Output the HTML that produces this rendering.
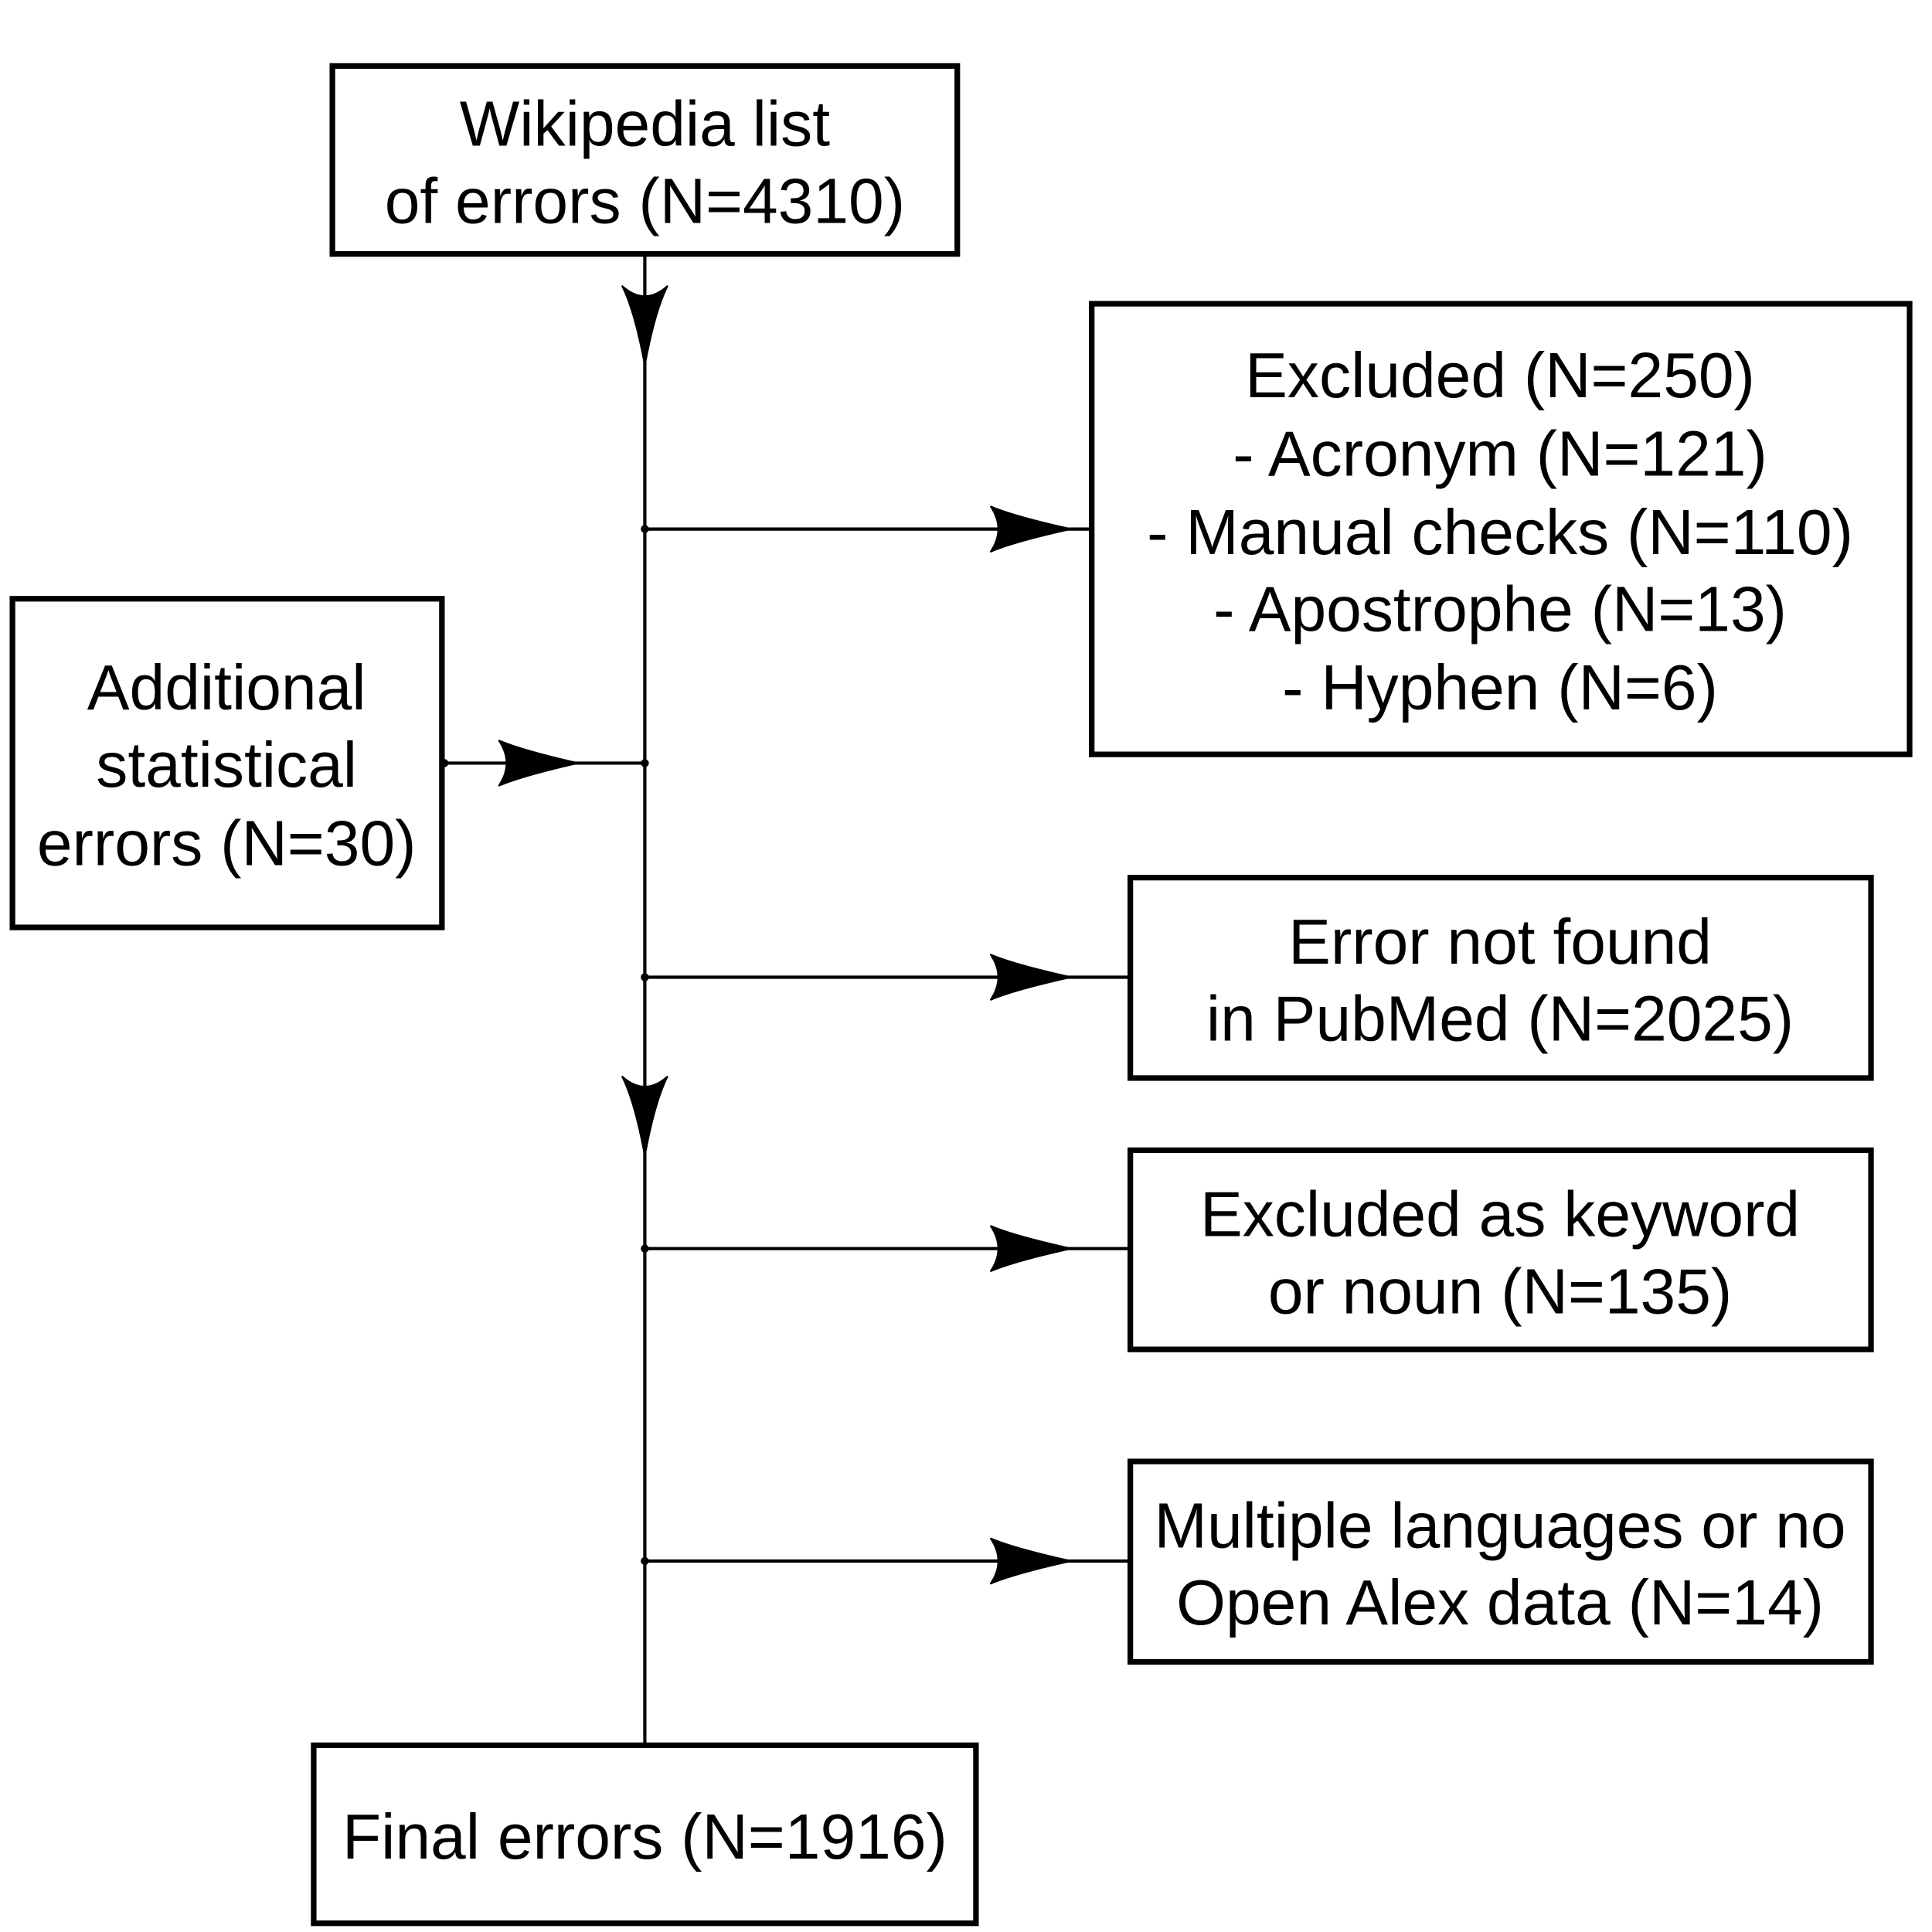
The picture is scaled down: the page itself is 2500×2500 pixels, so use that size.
<!DOCTYPE html>
<html><head><meta charset="utf-8"><style>
html,body{margin:0;padding:0;background:#fff;width:2500px;height:2500px;overflow:hidden}
svg{display:block}
text{font-family:"Liberation Sans",Arial,sans-serif;font-size:51px;fill:#000;text-anchor:middle}
</style></head><body>
<svg width="2500" height="2500" viewBox="0 0 1552 1552" xmlns="http://www.w3.org/2000/svg">
<g fill="none" stroke="#000" stroke-width="4.5">
<rect x="267" y="53" width="502" height="151"/>
<rect x="877" y="244" width="657" height="362"/>
<rect x="10" y="481" width="345" height="264"/>
<rect x="908" y="705" width="595" height="161"/>
<rect x="908" y="924" width="595" height="160"/>
<rect x="908" y="1174" width="595" height="161"/>
<rect x="252" y="1402" width="532" height="143"/>
</g>
<g stroke="#000" stroke-width="2.6" fill="none">
<line x1="518" y1="204" x2="518" y2="1402"/>
<line x1="518" y1="425" x2="877" y2="425"/>
<line x1="357" y1="613" x2="518" y2="613"/>
<line x1="518" y1="785" x2="908" y2="785"/>
<line x1="518" y1="1003" x2="908" y2="1003"/>
<line x1="518" y1="1254" x2="908" y2="1254"/>
</g>
<g fill="#000" stroke="#000" stroke-width="1.5" stroke-linejoin="round">
<circle cx="357" cy="613" r="2.5"/><circle cx="518" cy="613" r="2.5"/>
<circle cx="518" cy="425" r="2.5"/><circle cx="518" cy="785" r="2.5"/>
<circle cx="518" cy="1003" r="2.5"/><circle cx="518" cy="1254" r="2.5"/>
<path d="M796,407 Q815,415 860,425 Q815,435 796,443 Q808,425 796,407Z"/>
<path d="M796,767 Q815,775 860,785 Q815,795 796,803 Q808,785 796,767Z"/>
<path d="M796,985 Q815,993 860,1003 Q815,1013 796,1021 Q808,1003 796,985Z"/>
<path d="M796,1236 Q815,1244 860,1254 Q815,1264 796,1272 Q808,1254 796,1236Z"/>
<path d="M401,595 Q420,603 464,613 Q420,623 401,631 Q413,613 401,595Z"/>
<path d="M500,230 Q518,246 536,230 Q526,250 518,293 Q510,250 500,230Z"/>
<path d="M500,865 Q518,881 536,865 Q526,885 518,928 Q510,885 500,865Z"/>
</g>
<text x="518" y="117">Wikipedia list</text>
<text x="518" y="179">of errors (N=4310)</text>
<text x="1205" y="319">Excluded (N=250)</text>
<text x="1205" y="382">- Acronym (N=121)</text>
<text x="1205" y="445">- Manual checks (N=110)</text>
<text x="1205" y="507">- Apostrophe (N=13)</text>
<text x="1205" y="570">- Hyphen (N=6)</text>
<text x="182" y="570">Additional</text>
<text x="182" y="632">statistical</text>
<text x="182" y="695">errors (N=30)</text>
<text x="1205" y="774">Error not found</text>
<text x="1205" y="836">in PubMed (N=2025)</text>
<text x="1205" y="993">Excluded as keyword</text>
<text x="1205" y="1055">or noun (N=135)</text>
<text x="1205" y="1243">Multiple languages or no</text>
<text x="1205" y="1305">Open Alex data (N=14)</text>
<text x="518" y="1493">Final errors (N=1916)</text>
</svg>
</body></html>
